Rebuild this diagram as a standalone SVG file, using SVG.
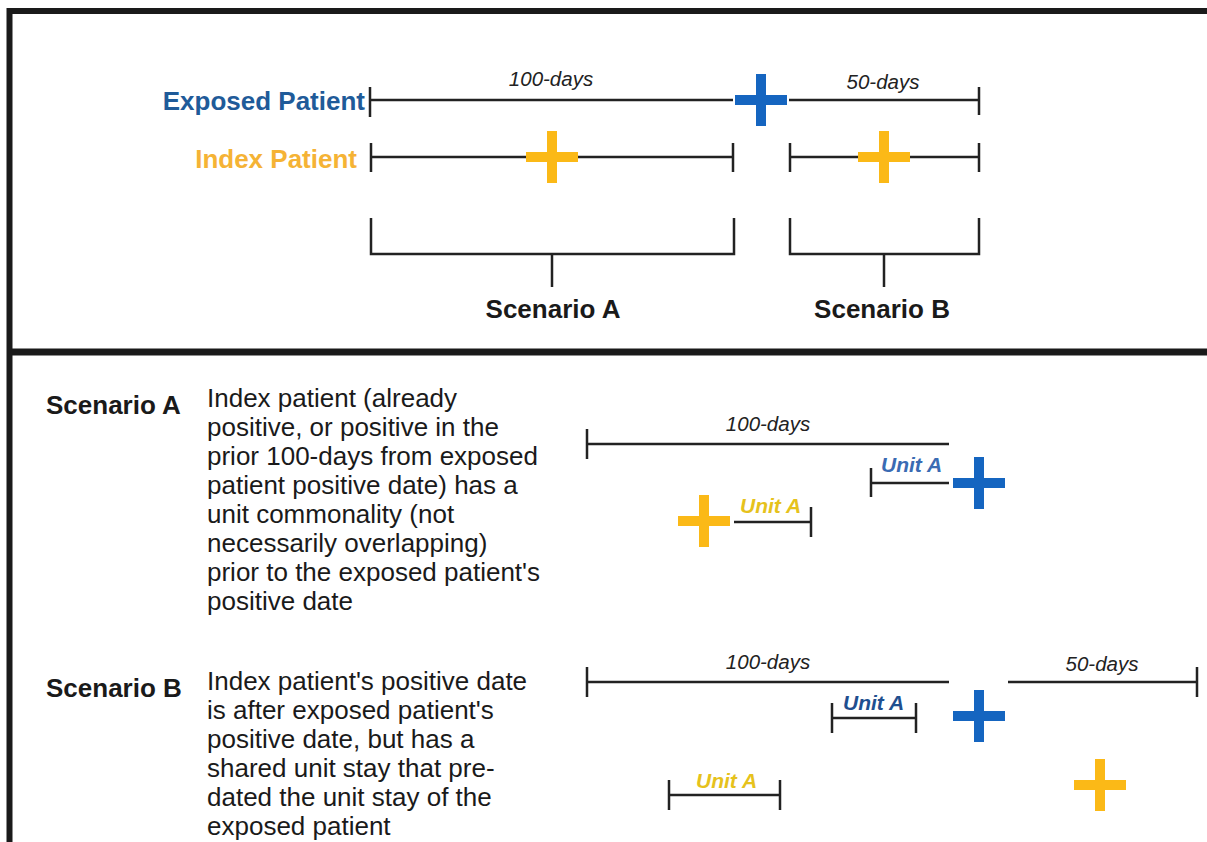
<svg xmlns="http://www.w3.org/2000/svg" xmlns:xlink="http://www.w3.org/1999/xlink" width="1207" height="842" viewBox="0 0 1207 842">
<style>
.frame{stroke:#1a1a1a;fill:none}
.ln{stroke:#222;stroke-width:2.5;fill:none}
.bold{font-family:"Liberation Sans",Arial,sans-serif;font-weight:bold;font-size:26px;fill:#1a1a1a}
.body{font-family:"Liberation Sans",Arial,sans-serif;font-size:26px;fill:#1a1a1a}
.days{font-family:"Liberation Sans",Arial,sans-serif;font-style:italic;font-size:20.5px;fill:#222}
.unit{font-family:"Liberation Sans",Arial,sans-serif;font-style:italic;font-weight:bold;font-size:21px}
.blue{fill:#1565c0}
.orange{fill:#fbb917}
</style>
<defs>
<path id="plus" d="M-26,-5H-5V-26H5V-5H26V5H5V26H-5V5H-26Z"/>
</defs>
<rect width="1207" height="842" fill="#fff"/>
<g id="frame">
<path class="frame" d="M9.5,842V11H1207" stroke-width="6"/>
<line class="frame" x1="9" y1="352" x2="1207" y2="352" stroke-width="7"/>
</g>
<g id="connectors">
<path class="ln" d="M370,87V117M370,100H733M789,100H979M979,87V115"/>
<path class="ln" d="M371,143V172M371,157H733M733,143V172M790,143V172M790,157H979M979,143V172"/>
<path class="ln" d="M371,218V254H734V218M552,254V287"/>
<path class="ln" d="M790,218V254H979V218M884,254V287"/>
<path class="ln" d="M587,429V459M587,444H949"/>
<path class="ln" d="M871,468V497M871,483H949"/>
<path class="ln" d="M734,522H811M811,507V537"/>
<path class="ln" d="M587,667V697M587,682H949M1008,682H1197M1197,667V697"/>
<path class="ln" d="M832,703V733M832,718H916M916,703V733"/>
<path class="ln" d="M669,780V810M669,795H780M780,780V810"/>
</g>
<g id="top-labels">
<text class="bold" x="365" y="110" text-anchor="end" style="fill:#1f5b99">Exposed Patient</text>
<text class="bold" x="357" y="168" text-anchor="end" style="fill:#f5b335">Index Patient</text>
<text class="days" x="551" y="86" text-anchor="middle">100-days</text>
<text class="days" x="883" y="89" text-anchor="middle">50-days</text>
<text class="bold" x="553" y="318" text-anchor="middle">Scenario A</text>
<text class="bold" x="882" y="318" text-anchor="middle">Scenario B</text>
</g>
<g id="top-plus">
<use xlink:href="#plus" href="#plus" class="blue" x="761" y="100"/>
<use xlink:href="#plus" href="#plus" class="orange" x="552" y="157"/>
<use xlink:href="#plus" href="#plus" class="orange" x="884" y="157"/>
</g>
<g id="scenario-a">
<text class="bold" x="46" y="414">Scenario A</text>
<text class="body" x="207">
<tspan x="207" y="407">Index patient (already</tspan>
<tspan x="207" y="436">positive, or positive in the</tspan>
<tspan x="207" y="465">prior 100-days from exposed</tspan>
<tspan x="207" y="494">patient positive date) has a</tspan>
<tspan x="207" y="523">unit commonality (not</tspan>
<tspan x="207" y="552">necessarily overlapping)</tspan>
<tspan x="207" y="581">prior to the exposed patient's</tspan>
<tspan x="207" y="610">positive date</tspan>
</text>
<text class="days" x="768" y="431" text-anchor="middle">100-days</text>
<text class="unit" x="881" y="472" style="fill:#3a6bb3">Unit A</text>
<text class="unit" x="740" y="513" style="fill:#e6c21c">Unit A</text>
<use xlink:href="#plus" href="#plus" class="blue" x="979" y="483"/>
<use xlink:href="#plus" href="#plus" class="orange" x="704" y="521"/>
</g>
<g id="scenario-b">
<text class="bold" x="46" y="697">Scenario B</text>
<text class="body" x="207">
<tspan x="207" y="690">Index patient's positive date</tspan>
<tspan x="207" y="719">is after exposed patient's</tspan>
<tspan x="207" y="748">positive date, but has a</tspan>
<tspan x="207" y="777">shared unit stay that pre-</tspan>
<tspan x="207" y="806">dated the unit stay of the</tspan>
<tspan x="207" y="835">exposed patient</tspan>
</text>
<text class="days" x="768" y="669" text-anchor="middle">100-days</text>
<text class="days" x="1102" y="671" text-anchor="middle">50-days</text>
<text class="unit" x="843" y="710" style="fill:#1f4f8f">Unit A</text>
<text class="unit" x="696" y="788" style="fill:#e6c21c">Unit A</text>
<use xlink:href="#plus" href="#plus" class="blue" x="979" y="716"/>
<use xlink:href="#plus" href="#plus" class="orange" x="1100" y="785"/>
</g>
</svg>
